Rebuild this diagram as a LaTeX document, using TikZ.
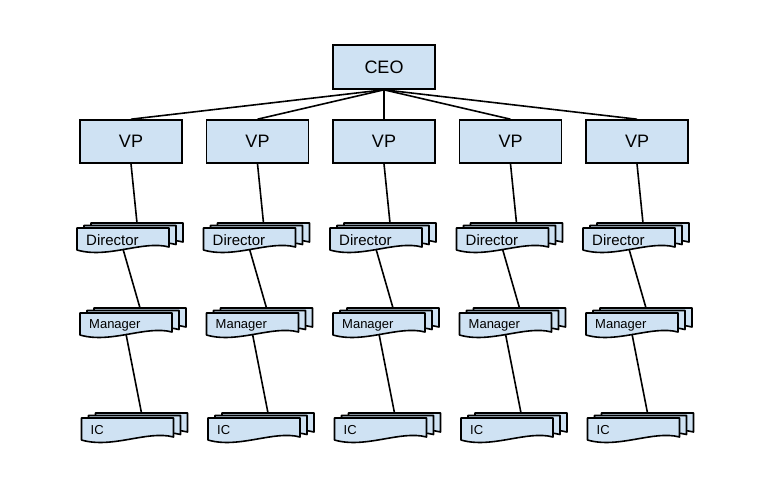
\documentclass[tikz,border=0pt]{standalone}
\usepackage{fontspec}
\setmainfont{Liberation Sans}
\usetikzlibrary{positioning}
\definecolor{boxblue}{RGB}{207,226,243}

\tikzset{
  doc/.style={draw=black, line width=1.6pt, fill=boxblue, line join=round},
  pics/docs/.style 2 args={code={
    \foreach \o in {2,1,0}
      \draw[doc, shift={(7*\o,-2.5*\o)}] (-46,-12) -- (46,-12) -- (46,7)
        .. controls (20,0) and (-15,19) .. (-46,10) -- cycle;
    \node[anchor=west, inner sep=0pt, font=#2] (-label) at (-37,0.5) {#1};
    \coordinate (-top) at (14,-17);
    \coordinate (-bot) at (0,9);
  }}
}

\begin{document}
\begin{tikzpicture}[
    x=1pt, y=-1pt,
    box/.style={draw=black, line width=1.6pt, fill=boxblue, minimum width=102pt,
      minimum height=43pt, inner sep=0pt, font=\fontsize{18}{20}\selectfont},
    link/.style={draw=black, line width=1.6pt}
  ]
  \useasboundingbox (0,0) rectangle (768,480);

  \node[box, minimum height=44pt] (ceo) at (384,67) {CEO};

  \foreach \i in {0,...,4} {
    \node[box] (vp\i) at ({131+126.5*\i},141.5) {VP};
    \pic (dir\i) at ({123+126.5*\i},240) {docs={Director}{\fontsize{15}{17}\selectfont}};
    \pic (man\i) at ({126+126.5*\i},325) {docs={Manager}{\fontsize{13}{15}\selectfont}};
    \pic (ic\i) at ({127.5+126.5*\i},430) {docs={IC}{\fontsize{13}{15}\selectfont}};
  }

  % links
  \foreach \i in {0,...,4} {
    \draw[link] (ceo.south) -- (vp\i.north);
    \draw[link] (vp\i.south) -- (dir\i-top);
    \draw[link] (dir\i-bot) -- (man\i-top);
    \draw[link] (man\i-bot) -- (ic\i-top);
  }
\end{tikzpicture}
\end{document}
